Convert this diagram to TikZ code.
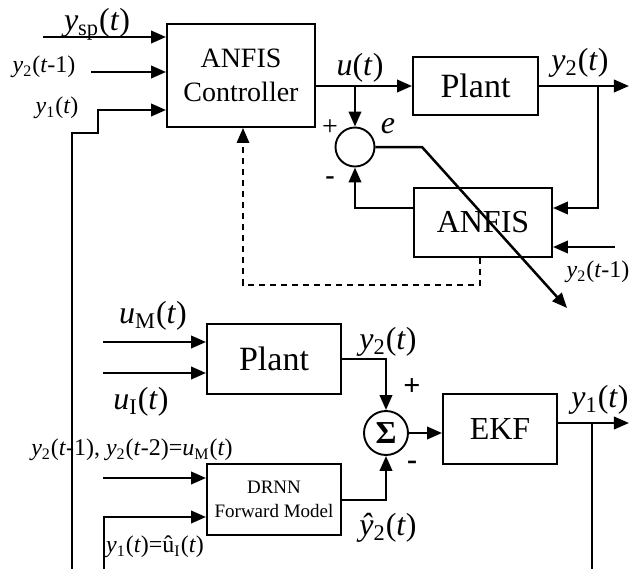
\documentclass[tikz,border=0pt]{standalone}
\usepackage{fontspec}
\setmainfont{Liberation Serif}
\usetikzlibrary{arrows.meta,calc,positioning}
\newcommand{\fsz}[1]{\fontsize{#1}{1.2\dimexpr#1pt\relax}\selectfont}

\begin{document}
\begin{tikzpicture}[x=0.5pt,y=-0.5pt,line width=1.25pt,
  blk/.style={draw, line width=0.95pt, inner sep=0pt, align=center},
  sumc/.style={draw, circle, line width=0.95pt, inner sep=0pt},
  arr/.style={-{Triangle[length=7.5pt,width=6.2pt]}},
  lbl/.style={font=\fsz{16}, inner sep=0pt},
  slbl/.style={font=\fsz{12}, inner sep=0pt}]
\useasboundingbox (0,0) rectangle (629,569);
% upper loop
\node[blk, minimum width=74pt, minimum height=51.5pt, font=\fontsize{14}{17}\selectfont] (ctrl) at (241,75.5) {ANFIS\\Controller};
\node[blk, minimum width=62.5pt, minimum height=29pt, font=\fsz{17}] (plant) at (475.5,86) {Plant};
\node[blk, minimum width=69pt, minimum height=34.5pt, font=\fsz{16}] (anfis) at (483,222.5) {ANFIS};
\node[sumc, minimum size=19.5pt] (sum1) at (355,147) {};
% lower loop
\node[blk, minimum width=67pt, minimum height=35pt, font=\fsz{17}] (plantb) at (274,359) {Plant};
\node[blk, minimum width=67pt, minimum height=35.5pt, font=\fontsize{9.5}{12}\selectfont] (drnn) at (274,499.5) {DRNN\\Forward Model};
\node[blk, minimum width=57pt, minimum height=35pt, font=\fsz{16}] (ekf) at (500,429) {EKF};
\node[sumc, minimum size=22pt, font=\fsz{16}\bfseries] (sum2) at (386,433) {Σ};

% labels
\node[lbl] (lysp) at (97,24) {\textit{y}\textsubscript{sp}(\textit{t})};
\node[slbl] (ly2a) at (44,67) {\textit{y}\textsubscript{2}(\textit{t}-1)};
\node[slbl] (ly1a) at (57,108) {\textit{y}\textsubscript{1}(\textit{t})};
\node[lbl] (lu) at (360,68) {\textit{u}(\textit{t})};
\node[lbl] (ly2b) at (580,63) {\textit{y}\textsubscript{2}(\textit{t})};
\node[font=\fsz{14}, inner sep=0pt] (lp1) at (330,128) {+};
\node[font=\fsz{14}\bfseries, inner sep=0pt] (lm1) at (330,181) {-};
\node[lbl] (le) at (388,126) {\textit{e}};
\node[slbl] (ly2c) at (598,272) {\textit{y}\textsubscript{2}(\textit{t}-1)};
\node[lbl] (lum) at (153,316) {\textit{u}\textsubscript{M}(\textit{t})};
\node[lbl] (lui) at (141,402) {\textit{u}\textsubscript{I}(\textit{t})};
\node[slbl] (ldr) at (132,450) {\textit{y}\textsubscript{2}(\textit{t}-1), \textit{y}\textsubscript{2}(\textit{t}-2)=\textit{u}\textsubscript{M}(\textit{t})};
\node[slbl] (ly1u) at (155,547) {\textit{y}\textsubscript{1}(\textit{t})=û\textsubscript{I}(\textit{t})};
\node[lbl] (ly2d) at (388,342) {\textit{y}\textsubscript{2}(\textit{t})};
\node[font=\fsz{15}\bfseries, inner sep=0pt] (lp2) at (412,387) {+};
\node[font=\fsz{15}\bfseries, inner sep=0pt] (lm2) at (412,465) {-};
\node[lbl] (ly2h) at (388,528) {\textit{ŷ}\textsubscript{2}(\textit{t})};
\node[lbl] (ly1b) at (600,400) {\textit{y}\textsubscript{1}(\textit{t})};

% free ends and bends
\coordinate (yspin) at (43,37);
\coordinate (y2in) at (91,72);
\coordinate (y1low) at (72,569);
\coordinate (y1bend) at (98,110);
\coordinate (uj) at (355,86);
\coordinate (y2out) at (629,86);
\coordinate (y2j) at (598,86);
\coordinate (fb) at (598,208);
\coordinate (y2r) at (615,247);
\coordinate (am) at (355,208);
\coordinate (ek) at (422,147);
\coordinate (eout) at (567,308);
\coordinate (da) at (480,285);
\coordinate (db) at (243,285);
\coordinate (umin) at (103,342);
\coordinate (uiin) at (103,373);
\coordinate (drin) at (103,478);
\coordinate (y1low2) at (104,569);
\coordinate (y1in2) at (104,517);
\coordinate (p2) at (386,359);
\coordinate (d2) at (386,500);
\coordinate (y1j) at (592,423);
\coordinate (y1out) at (629,423);
\coordinate (y1low3) at (592,569);

% connectors, upper
\draw[arr] (yspin) -- (yspin -| ctrl.west);
\draw[arr] (y2in) -- (y2in -| ctrl.west);
\draw[arr] (y1low) -- (72,133) -- (98,133) -- (y1bend) -- (y1bend -| ctrl.west);
\draw[arr] (ctrl.east |- uj) -- (plant.west |- uj);
\draw[arr] (uj) -- (sum1.north);
\draw[arr] (plant.east |- y2out) -- (y2out);
\draw[arr] (y2j) -- (fb) -- (fb -| anfis.east);
\draw[arr] (y2r) -- (y2r -| anfis.east);
\draw[arr] (am -| anfis.west) -- (am) -- (sum1.south);
\draw[arr] (sum1.east) -- (ek) -- (eout);
\draw[arr, line width=0.95pt, dash pattern=on 3pt off 2.5pt] (da |- anfis.south) -- (da) -- (db) -- (db |- ctrl.south);

% connectors, lower
\draw[arr] (umin) -- (umin -| plantb.west);
\draw[arr] (uiin) -- (uiin -| plantb.west);
\draw[arr] (drin) -- (drin -| drnn.west);
\draw[arr] (y1low2) -- (y1in2) -- (y1in2 -| drnn.west);
\draw[arr] (plantb.east |- p2) -- (p2) -- (sum2.north);
\draw[arr] (drnn.east |- d2) -- (d2) -- (sum2.south);
\draw[arr] (sum2.east) -- (ekf.west |- sum2.east);
\draw[arr] (ekf.east |- y1j) -- (y1out);
\draw (y1j) -- (y1low3);
\end{tikzpicture}
\end{document}
